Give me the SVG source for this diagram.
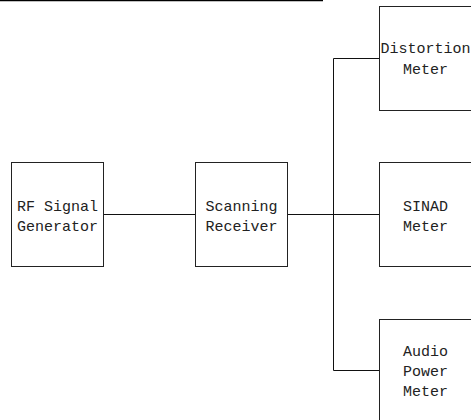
<svg xmlns="http://www.w3.org/2000/svg" width="471" height="420" viewBox="0 0 471 420">
<style>
.box{fill:#fff;stroke:#222;stroke-width:1}
.wire{fill:none;stroke:#111;stroke-width:1}
text{font-family:"Liberation Mono","Courier New",monospace;font-size:15px;fill:#222;text-anchor:middle}
</style>
<rect width="471" height="420" fill="#fff"/>
<line x1="0" y1="0.5" x2="323" y2="0.5" stroke="#000" stroke-width="1.5"/>
<g id="connectors">
<line class="wire" x1="103.5" y1="214.5" x2="195.5" y2="214.5"/>
<line class="wire" x1="287.5" y1="214.5" x2="379.5" y2="214.5"/>
<polyline class="wire" points="379.5,58.5 333.5,58.5 333.5,370.5 379.5,370.5"/>
</g>
<g id="rf-generator">
<rect class="box" x="11.5" y="162.5" width="92" height="104"/>
<text x="57.5" y="211">RF Signal</text>
<text x="57.5" y="231">Generator</text>
</g>
<g id="scanning-receiver">
<rect class="box" x="195.5" y="162.5" width="92" height="104"/>
<text x="241.5" y="211">Scanning</text>
<text x="241.5" y="231">Receiver</text>
</g>
<g id="distortion-meter">
<rect class="box" x="379.5" y="6.5" width="92" height="104"/>
<text x="425.5" y="53">Distortion</text>
<text x="425.5" y="74">Meter</text>
</g>
<g id="sinad-meter">
<rect class="box" x="379.5" y="162.5" width="92" height="104"/>
<text x="425.5" y="211">SINAD</text>
<text x="425.5" y="231">Meter</text>
</g>
<g id="audio-power-meter">
<rect class="box" x="379.5" y="319.5" width="92" height="104"/>
<text x="425.5" y="355.5">Audio</text>
<text x="425.5" y="375.5">Power</text>
<text x="425.5" y="395.5">Meter</text>
</g>
</svg>
